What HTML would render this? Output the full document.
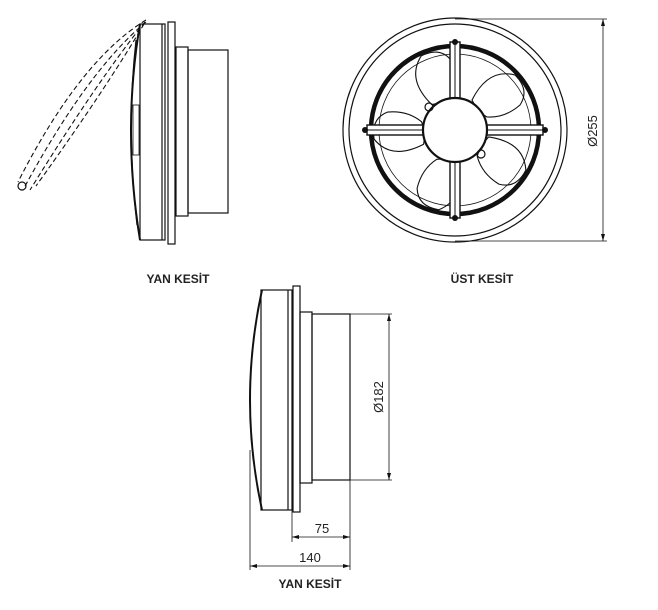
<!DOCTYPE html>
<html><head><meta charset="utf-8"><style>
html,body{margin:0;padding:0;background:#fff;}
svg{display:block}
text{font-family:"Liberation Sans",sans-serif;}
</style></head><body>
<svg width="658" height="610" viewBox="0 0 658 610" xmlns="http://www.w3.org/2000/svg">
<g fill="none" stroke="#111" stroke-width="1.2">
<!-- top-left side view -->
<path d="M140,24 Q122,130 140,240" stroke-width="2"/>
<path d="M136,40 Q126,130 137,225"/>
<rect x="140" y="24" width="25" height="216"/>
<line x1="162" y1="24" x2="162" y2="240"/>
<rect x="168" y="22" width="7" height="222"/>
<rect x="176" y="47" width="12" height="169"/>
<rect x="188" y="50" width="40" height="163"/>
<rect x="133" y="105" width="6" height="50" stroke-width="0.8"/>
<g stroke-dasharray="5,3" stroke-width="1.1">
<path d="M146,20 Q80,60 18,182"/>
<path d="M146,22 Q88,70 24,188"/>
<path d="M145,22 Q98,80 30,190"/>
<path d="M144,24 Q105,90 36,186"/>
</g>
<circle cx="22" cy="186" r="4"/>
<!-- top-right front view -->
<circle cx="455" cy="130" r="112"/>
<circle cx="455" cy="130" r="106"/>
<circle cx="455" cy="130" r="84" stroke-width="4.5"/>
<circle cx="455" cy="130" r="76" stroke-width="0.8"/>
<g stroke-width="1.1">
<g id="bl"><path d="M472,100 Q488,68 515,75 Q530,90 520,105 Q505,118 487,117 Q478,112 472,100Z"/></g>
<use href="#bl" transform="rotate(72 455 130)"/>
<use href="#bl" transform="rotate(144 455 130)"/>
<use href="#bl" transform="rotate(216 455 130)"/>
<use href="#bl" transform="rotate(288 455 130)"/>
</g>
<g fill="#fff" stroke-width="1.4">
<rect x="450" y="42" width="10" height="176"/>
<rect x="367" y="125" width="176" height="10"/>
</g>
<line x1="455" y1="42" x2="455" y2="218" stroke-width="1"/>
<line x1="367" y1="130" x2="543" y2="130" stroke-width="1"/>
<circle cx="455" cy="130" r="32" fill="#fff" stroke-width="2.2"/>
<circle cx="429" cy="107" r="4"/><circle cx="481" cy="154" r="4"/>
<g fill="#111" stroke="none">
<circle cx="455" cy="42" r="3"/><circle cx="455" cy="218" r="3"/>
<circle cx="365" cy="130" r="3"/><circle cx="545" cy="130" r="3"/>
</g>
<g stroke-width="0.8">
<line x1="455" y1="19" x2="607" y2="19"/>
<line x1="455" y1="241" x2="607" y2="241"/>
<line x1="603" y1="19" x2="603" y2="241"/>
</g>
<path d="M603,19 l-2,7 h4z M603,241 l-2,-7 h4z" fill="#111" stroke="none"/>
<!-- bottom side view -->
<path d="M262,290 Q238,400 262,510" stroke-width="2"/>
<rect x="261" y="290" width="31" height="220"/>
<line x1="288" y1="290" x2="288" y2="510"/>
<rect x="293" y="286" width="7" height="226"/>
<rect x="300" y="312" width="12" height="171"/>
<rect x="312" y="314" width="38" height="166"/>
<g stroke-width="0.8">
<line x1="350" y1="314" x2="392" y2="314"/>
<line x1="350" y1="480" x2="392" y2="480"/>
<line x1="389" y1="314" x2="389" y2="480"/>
<line x1="292" y1="483" x2="292" y2="542"/>
<line x1="350" y1="480" x2="350" y2="570"/>
<line x1="250" y1="450" x2="250" y2="570"/>
<line x1="292" y1="537" x2="350" y2="537"/>
<line x1="250" y1="566" x2="350" y2="566"/>
</g>
<path d="M389,314 l-2,7 h4z M389,480 l-2,-7 h4z M292,537 l7,-2 v4z M350,537 l-7,-2 v4z M250,566 l7,-2 v4z M350,566 l-7,-2 v4z" fill="#111" stroke="none"/>
</g>
<g fill="#222" font-size="13">
<text x="597" y="131" transform="rotate(-90 597 131)" text-anchor="middle">Ø255</text>
<text x="383" y="397" transform="rotate(-90 383 397)" text-anchor="middle">Ø182</text>
<text x="322" y="533" text-anchor="middle">75</text>
<text x="310" y="562" text-anchor="middle">140</text>
</g>
<g fill="#222" font-size="12" font-weight="bold" text-anchor="middle">
<text x="178" y="283">YAN KESİT</text>
<text x="482" y="283">ÜST KESİT</text>
<text x="310" y="588">YAN KESİT</text>
</g>
</svg>
</body></html>
